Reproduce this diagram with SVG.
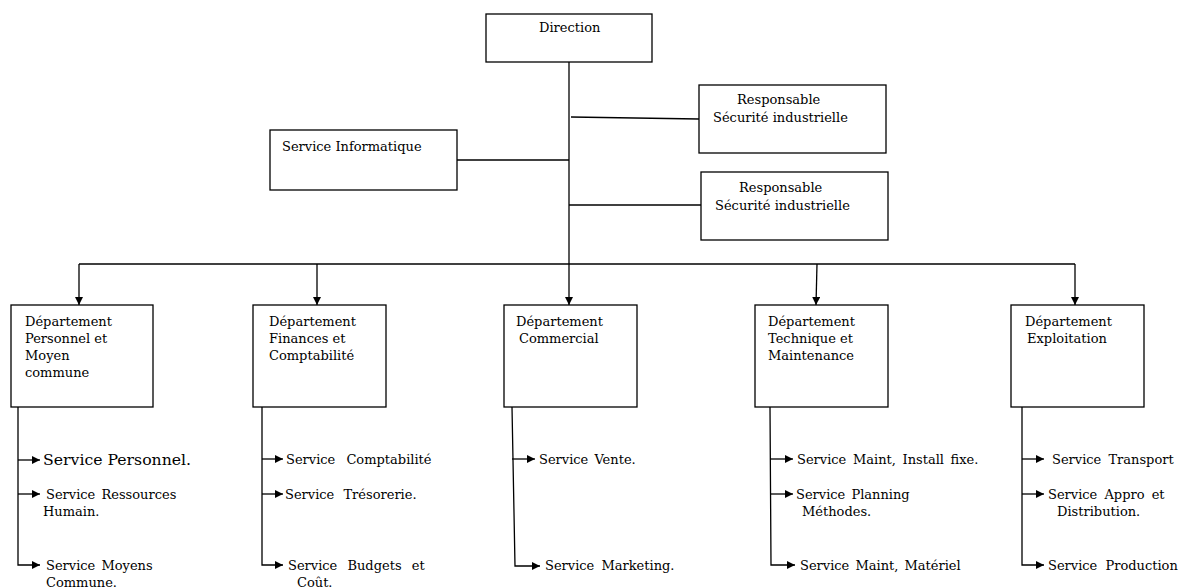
<svg xmlns="http://www.w3.org/2000/svg" width="1186" height="588" viewBox="0 0 1186 588">
<style>
.box{fill:#fff;stroke:#000;stroke-width:1.3}
.ln{fill:none;stroke:#000;stroke-width:1.3}
.t{font-family:"DejaVu Serif","Liberation Serif",serif;font-size:13px;fill:#000}
.big{font-size:15.7px}
</style>
<defs>
<marker id="ah" viewBox="0 0 10 10" refX="10" refY="5" markerWidth="8" markerHeight="8" markerUnits="userSpaceOnUse" orient="auto">
<path d="M0,0 L10,5 L0,10 Z" fill="#000"/>
</marker>
</defs>
<g id="connectors">
<line class="ln" x1="569" y1="62" x2="569" y2="305" marker-end="url(#ah)"/>
<line class="ln" x1="571" y1="117" x2="699" y2="119"/>
<line class="ln" x1="457" y1="160" x2="569" y2="160"/>
<line class="ln" x1="569" y1="205" x2="701" y2="205"/>
<line class="ln" x1="79" y1="264" x2="1075" y2="264"/>
<line class="ln" x1="79" y1="264" x2="79" y2="305" marker-end="url(#ah)"/>
<line class="ln" x1="317" y1="264" x2="317" y2="305" marker-end="url(#ah)"/>
<line class="ln" x1="817" y1="264" x2="816" y2="305" marker-end="url(#ah)"/>
<line class="ln" x1="1075" y1="264" x2="1075" y2="305" marker-end="url(#ah)"/>
<polyline class="ln" points="18,407 18,565 40,565" marker-end="url(#ah)"/>
<line class="ln" x1="18" y1="460" x2="40" y2="460" marker-end="url(#ah)"/>
<line class="ln" x1="18" y1="494" x2="40" y2="494" marker-end="url(#ah)"/>
<polyline class="ln" points="262,407 262,565 283,565" marker-end="url(#ah)"/>
<line class="ln" x1="262" y1="459" x2="283" y2="459" marker-end="url(#ah)"/>
<line class="ln" x1="262" y1="494" x2="283" y2="494" marker-end="url(#ah)"/>
<polyline class="ln" points="512,407 515,566 540,566" marker-end="url(#ah)"/>
<line class="ln" x1="512" y1="459" x2="535" y2="459" marker-end="url(#ah)"/>
<polyline class="ln" points="770,407 771,565 795,565" marker-end="url(#ah)"/>
<line class="ln" x1="770" y1="459" x2="793" y2="459" marker-end="url(#ah)"/>
<line class="ln" x1="770" y1="494" x2="793" y2="494" marker-end="url(#ah)"/>
<polyline class="ln" points="1022,407 1022,565 1044,565" marker-end="url(#ah)"/>
<line class="ln" x1="1022" y1="459" x2="1044" y2="459" marker-end="url(#ah)"/>
<line class="ln" x1="1022" y1="494" x2="1044" y2="494" marker-end="url(#ah)"/>
</g>
<g id="direction">
<rect class="box" x="486" y="14" width="166" height="48"/>
<text class="t" x="539" y="32">Direction</text>
</g>
<g id="resp1">
<rect class="box" x="699" y="85" width="187" height="68"/>
<text class="t" x="737" y="104">Responsable</text>
<text class="t" x="713" y="122">Sécurité industrielle</text>
</g>
<g id="info">
<rect class="box" x="270" y="130" width="187" height="60"/>
<text class="t" x="282" y="151">Service Informatique</text>
</g>
<g id="resp2">
<rect class="box" x="701" y="172" width="187" height="68"/>
<text class="t" x="739" y="192">Responsable</text>
<text class="t" x="715" y="210">Sécurité industrielle</text>
</g>
<g id="dept1">
<rect class="box" x="11" y="305" width="142" height="102"/>
<text class="t" x="25" y="326">Département</text>
<text class="t" x="25" y="343">Personnel et</text>
<text class="t" x="25" y="360">Moyen</text>
<text class="t" x="25" y="377">commune</text>
</g>
<g id="dept2">
<rect class="box" x="253" y="305" width="133" height="102"/>
<text class="t" x="269" y="326">Département</text>
<text class="t" x="269" y="343">Finances et</text>
<text class="t" x="269" y="360">Comptabilité</text>
</g>
<g id="dept3">
<rect class="box" x="504" y="305" width="133" height="102"/>
<text class="t" x="516" y="326">Département</text>
<text class="t" x="519" y="343">Commercial</text>
</g>
<g id="dept4">
<rect class="box" x="755" y="305" width="133" height="102"/>
<text class="t" x="768" y="326">Département</text>
<text class="t" x="768" y="343">Technique et</text>
<text class="t" x="768" y="360">Maintenance</text>
</g>
<g id="dept5">
<rect class="box" x="1011" y="305" width="133" height="102"/>
<text class="t" x="1025" y="326">Département</text>
<text class="t" x="1027" y="343">Exploitation</text>
</g>
<g id="services1">
<text class="t big" x="43" y="465">Service Personnel.</text>
<text class="t" x="46" y="499" word-spacing="2">Service Ressources</text>
<text class="t" x="43" y="516">Humain.</text>
<text class="t" x="46" y="570" word-spacing="2">Service Moyens</text>
<text class="t" x="46" y="587">Commune.</text>
</g>
<g id="services2">
<text class="t" x="286" y="464" word-spacing="7">Service Comptabilité</text>
<text class="t" x="285" y="499" word-spacing="5">Service Trésorerie.</text>
<text class="t" x="288" y="570" word-spacing="6">Service Budgets et</text>
<text class="t" x="297" y="587">Coût.</text>
</g>
<g id="services3">
<text class="t" x="539" y="464" word-spacing="2">Service Vente.</text>
<text class="t" x="545" y="570" word-spacing="3">Service Marketing.</text>
</g>
<g id="services4">
<text class="t" x="797" y="464" word-spacing="2.5">Service Maint, Install fixe.</text>
<text class="t" x="796" y="499" word-spacing="2">Service Planning</text>
<text class="t" x="802" y="516">Méthodes.</text>
<text class="t" x="800" y="570" word-spacing="2">Service Maint, Matériel</text>
</g>
<g id="services5">
<text class="t" x="1052" y="464" word-spacing="3">Service Transport</text>
<text class="t" x="1048" y="499" word-spacing="3">Service Appro et</text>
<text class="t" x="1057" y="516">Distribution.</text>
<text class="t" x="1048" y="570" word-spacing="4">Service Production</text>
</g>
</svg>
